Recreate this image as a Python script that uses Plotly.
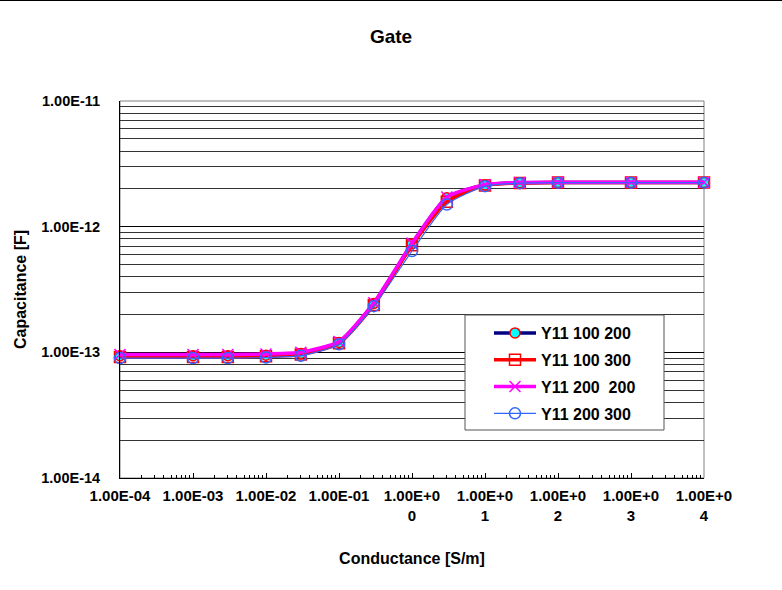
import plotly.graph_objects as go

conductance = [1e-4, 1e-3, 3e-3, 1e-2, 3e-2, 1e-1, 3e-1, 1, 3, 10, 30, 100, 1000, 10000]
y11_100_200 = [9.4e-14, 9.4e-14, 9.4e-14, 9.5e-14, 9.8e-14, 1.20e-13, 2.45e-13, 7.3e-13, 1.70e-12, 2.15e-12, 2.24e-12, 2.25e-12, 2.25e-12, 2.25e-12]
y11_100_300 = [9.2e-14, 9.2e-14, 9.2e-14, 9.3e-14, 9.6e-14, 1.18e-13, 2.38e-13, 7.1e-13, 1.58e-12, 2.13e-12, 2.23e-12, 2.25e-12, 2.25e-12, 2.25e-12]
y11_200_200 = [9.6e-14, 9.6e-14, 9.6e-14, 9.7e-14, 1.00e-13, 1.22e-13, 2.48e-13, 7.4e-13, 1.72e-12, 2.16e-12, 2.25e-12, 2.26e-12, 2.26e-12, 2.26e-12]
y11_200_300 = [9.0e-14, 9.0e-14, 9.0e-14, 9.1e-14, 9.4e-14, 1.16e-13, 2.33e-13, 6.4e-13, 1.50e-12, 2.10e-12, 2.22e-12, 2.24e-12, 2.24e-12, 2.24e-12]

x_tickvals = [1e-4, 1e-3, 1e-2, 1e-1, 1, 10, 100, 1000, 10000]
x_ticktext = ["1.00E-04", "1.00E-03", "1.00E-02", "1.00E-01", "1.00E+0<br>0", "1.00E+0<br>1",
              "1.00E+0<br>2", "1.00E+0<br>3", "1.00E+0<br>4"]
y_tickvals = [1e-14, 1e-13, 1e-12, 1e-11]
y_ticktext = ["1.00E-14", "1.00E-13", "1.00E-12", "1.00E-11"]

FONT = "Liberation Sans, Arial, sans-serif"

series = [
    ("Y11 100 200", y11_100_200, dict(color="#000080", width=3.5),
     dict(symbol="circle", size=10, color="#00FFFF", line=dict(color="#FF0000", width=1.5))),
    ("Y11 100 300", y11_100_300, dict(color="#FF0000", width=3.5),
     dict(symbol="square-open", size=11, color="#FF0000", line=dict(color="#FF0000", width=1.5))),
    ("Y11 200\u00a0\u00a0200", y11_200_200, dict(color="#FF00FF", width=3.5),
     dict(symbol="x-thin", size=11, color="#FF00FF", line=dict(color="#FF00FF", width=1.5))),
    ("Y11 200 300", y11_200_300, dict(color="#3366FF", width=1.2),
     dict(symbol="circle-open", size=11, color="#3366FF", line=dict(color="#3366FF", width=1.5))),
]

fig = go.Figure()
for i, (name, vals, line, marker) in enumerate(series):
    fig.add_trace(go.Scatter(
        x=conductance, y=vals, name=name, mode="lines+markers",
        line=dict(shape="spline", smoothing=0.6, **line), marker=marker,
        cliponaxis=False, legendgroup=f"g{i}",
    ))

PW, PH = 584, 377  # plot area size in px (for paper-relative placement)

fig.update_layout(
    width=782, height=590, autosize=False,
    margin=dict(l=120, r=78, t=101, b=112, autoexpand=False),
    paper_bgcolor="white", plot_bgcolor="white",
    font=dict(family=FONT, size=15, color="black", weight="bold"),
    title=dict(text="Gate", x=0.5, xanchor="center", y=1 - 36 / 590, yanchor="middle",
               font=dict(family=FONT, size=19, color="black", weight="bold")),
    showlegend=True,
    legend=dict(x=(489 - 120) / PW, y=(478 - 316) / PH, xanchor="left", yanchor="top",
                bgcolor="rgba(0,0,0,0)", borderwidth=0,
                font=dict(family=FONT, size=16, color="black", weight="bold"),
                tracegroupgap=3, traceorder="grouped", itemwidth=42),
    xaxis=dict(type="log", range=[-4, 4], tickmode="array", tickvals=x_tickvals, ticktext=x_ticktext,
               automargin=False,
               showgrid=False, zeroline=False, showline=True, linecolor="black", linewidth=1,
               ticks="inside", ticklen=5, tickcolor="black", ticklabelstandoff=4,
               minor=dict(dtick="D1", ticks="inside", ticklen=3, tickcolor="black", showgrid=False),
               title=dict(text="Conductance [S/m]", standoff=30,
                          font=dict(family=FONT, size=16, color="black", weight="bold")),
               tickfont=dict(family=FONT, size=15, color="black", weight="bold")),
    yaxis=dict(type="log", range=[-14, -11], tickmode="array", tickvals=y_tickvals, ticktext=y_ticktext,
               automargin=False,
               showgrid=True, gridcolor="black", gridwidth=1, zeroline=False,
               showline=True, linecolor="black", linewidth=1, ticks="", ticklabelstandoff=16,
               minor=dict(dtick="D1", showgrid=True, gridcolor="#333333", gridwidth=1, ticks=""),
               title=dict(text="Capacitance [F]", standoff=10,
                          font=dict(family=FONT, size=16, color="black", weight="bold")),
               tickfont=dict(family=FONT, size=14.5, color="black", weight="bold")),
    shapes=[
        dict(type="rect", xref="paper", yref="paper", x0=0, x1=1, y0=0, y1=1,
             line=dict(color="#808080", width=1), layer="below"),
        dict(type="line", xref="paper", yref="paper", x0=-120 / PW, x1=1 + 78 / PW,
             y0=1 + 100.5 / PH, y1=1 + 100.5 / PH, line=dict(color="black", width=1)),
        # legend box
        dict(type="rect", xref="paper", yref="paper",
             x0=(465 - 120) / PW, x1=(664 - 120) / PW,
             y0=(478 - 430) / PH, y1=(478 - 315) / PH,
             fillcolor="white", line=dict(color="#555555", width=1), layer="above"),
    ],
)

fig.write_html("out.html", config={"displayModeBar": False},
               post_script="document.body.style.margin='0px';")
